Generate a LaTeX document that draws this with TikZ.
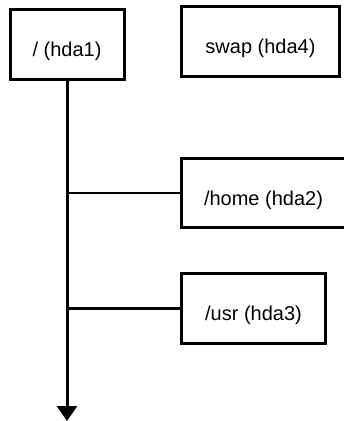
\documentclass[tikz,border=0pt]{standalone}
\usepackage{fontspec}
\setmainfont{Liberation Sans}
\usetikzlibrary{arrows.meta}
\begin{document}
\begin{tikzpicture}[
  x=1pt,y=-1pt,
  part/.style={draw, line width=3pt, inner sep=0pt, text height=24pt, text depth=0pt,
    font=\fontsize{20}{24}\selectfont},
  link/.style={line width=2.5pt}
]
\useasboundingbox (0,0) rectangle (344,421);

% partitions
\node[part, minimum width=114pt, minimum height=70pt] (root) at (67,44.5) {/ (hda1)};
\node[part, minimum width=158pt, minimum height=70pt] (swap) at (260.5,41.5) {swap (hda4)};
\node[part, minimum width=164pt, minimum height=69pt] (home) at (263.5,193) {/home (hda2)};
\node[part, minimum width=144pt, minimum height=70pt] (usr) at (253.5,308.5) {/usr (hda3)};

% directory tree
\coordinate (end) at (67,421);
\draw[link, line width=3pt, -{Triangle[width=20pt,length=15pt]}] (root.south) -- (end);
\draw[link] (home.west -| root.south) -- (home.west);
\draw[link] (usr.west -| root.south) -- (usr.west);
\end{tikzpicture}
\end{document}
